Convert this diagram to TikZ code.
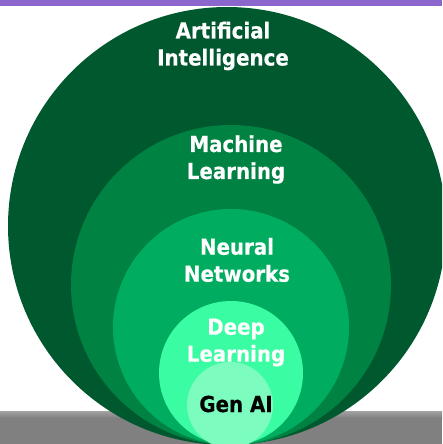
\documentclass[tikz,border=0pt]{standalone}
\usepackage{fontspec}
\setmainfont{DejaVu Sans}
\newfontfamily\ringfont{DejaVu Sans}[FakeStretch=0.9,FakeBold=0.4]
\definecolor{aigreen}{RGB}{0,88,46}
\definecolor{mlgreen}{RGB}{0,130,66}
\definecolor{nngreen}{RGB}{0,173,96}
\definecolor{dlgreen}{RGB}{58,252,162}
\definecolor{gengreen}{RGB}{124,252,190}
\definecolor{barpurple}{RGB}{139,102,204}
\definecolor{bargray}{RGB}{128,128,128}
\begin{document}
\begin{tikzpicture}[x=1pt,y=-1pt,
    ringlabel/.style={font=\ringfont\fontsize{22}{27}\selectfont\bfseries,text=white,align=center,inner sep=0pt}]
    \useasboundingbox (0,0) rectangle (442,444);
    \clip (0,0) rectangle (442,444);
    \fill[white] (0,0) rectangle (442,444);
    % floor strip
    \fill[bargray] (0,412) rectangle (442,444);
    \shade[top color=gray!75,bottom color=bargray] (0,411.5) rectangle (442,418);
    % nested rings, all resting on the floor
    \fill[aigreen] (227,226) circle[radius=219pt];
    \fill[mlgreen] (231,285) circle[radius=160pt];
    \fill[nngreen] (231,327) circle[radius=118pt];
    \fill[dlgreen] (231,373) circle[radius=72pt];
    \fill[gengreen] (230,405) circle[radius=43pt];
    \fill[barpurple] (0,0) rectangle (442,6.5);
    \node[ringlabel] (ai) at (223,46) {Artificial\\Intelligence};
    \node[ringlabel] (ml) at (236,159.5) {Machine\\Learning};
    \node[ringlabel] (nn) at (237,260) {Neural\\Networks};
    \node[ringlabel] (dl) at (236,342.5) {Deep\\Learning};
    \node[ringlabel,text=black,anchor=base] (gen) at (236,412) {Gen AI};
\end{tikzpicture}
\end{document}
